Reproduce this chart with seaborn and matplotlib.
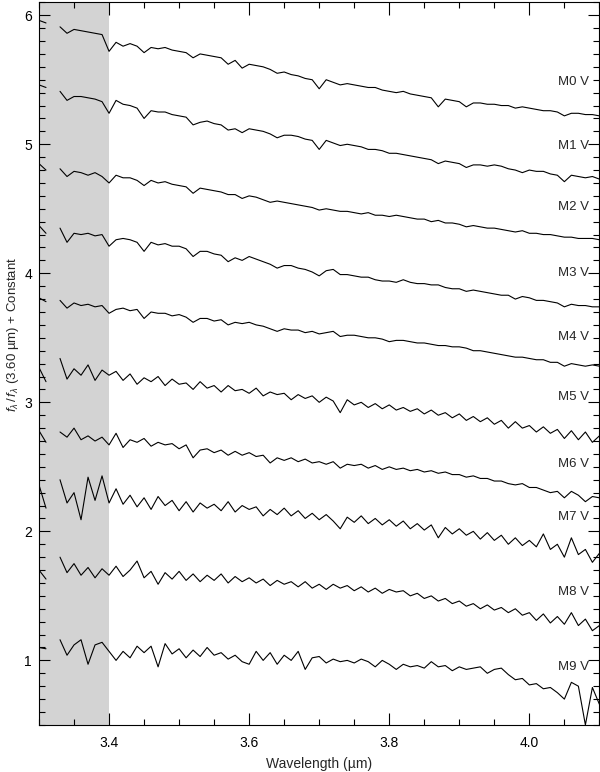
import numpy as np
import pandas as pd
import seaborn as sns
import matplotlib.pyplot as plt
from matplotlib.ticker import MultipleLocator

nan = np.nan

# wavelength grid (um), 0.01 step
wavelength = np.round(np.arange(3.30, 4.105, 0.01), 2)

# normalised flux + offset (nan = gap in the data)
m0 = [5.96, 5.94, nan, 5.91, 5.86, 5.89, 5.88, 5.87, 5.86, 5.85,
      5.72, 5.79, 5.76, 5.78, 5.76, 5.71, 5.75, 5.74, 5.75, 5.73,
      5.72, 5.71, 5.67, 5.70, 5.69, 5.68, 5.67, 5.62, 5.65, 5.59,
      5.62, 5.61, 5.60, 5.58, 5.55, 5.56, 5.54, 5.53, 5.51, 5.50,
      5.43, 5.50, 5.48, 5.46, 5.47, 5.46, 5.45, 5.44, 5.44, 5.42,
      5.41, 5.40, 5.41, 5.39, 5.38, 5.37, 5.36, 5.29, 5.35, 5.34,
      5.33, 5.29, 5.32, 5.32, 5.31, 5.31, 5.30, 5.30, 5.28, 5.29,
      5.28, 5.27, 5.26, 5.26, 5.25, 5.22, 5.24, 5.24, 5.23, 5.23,
      5.22]
m1 = [5.46, 5.44, nan, 5.41, 5.34, 5.37, 5.37, 5.36, 5.35, 5.33,
      5.24, 5.34, 5.31, 5.30, 5.28, 5.20, 5.26, 5.25, 5.25, 5.23,
      5.22, 5.21, 5.15, 5.17, 5.18, 5.16, 5.15, 5.11, 5.12, 5.09,
      5.12, 5.11, 5.10, 5.08, 5.05, 5.07, 5.07, 5.06, 5.04, 5.03,
      4.96, 5.03, 5.01, 4.99, 5.00, 4.99, 4.98, 4.96, 4.96, 4.95,
      4.93, 4.93, 4.92, 4.91, 4.90, 4.89, 4.88, 4.85, 4.87, 4.86,
      4.85, 4.82, 4.84, 4.84, 4.83, 4.84, 4.83, 4.81, 4.80, 4.78,
      4.80, 4.79, 4.79, 4.77, 4.76, 4.71, 4.76, 4.75, 4.74, 4.75,
      4.73]
m2 = [4.85, 4.80, nan, 4.81, 4.75, 4.79, 4.78, 4.76, 4.78, 4.75,
      4.70, 4.76, 4.74, 4.74, 4.72, 4.68, 4.72, 4.70, 4.71, 4.69,
      4.68, 4.67, 4.62, 4.66, 4.65, 4.64, 4.63, 4.61, 4.61, 4.58,
      4.60, 4.59, 4.57, 4.55, 4.56, 4.55, 4.54, 4.53, 4.52, 4.51,
      4.49, 4.50, 4.49, 4.48, 4.48, 4.47, 4.46, 4.47, 4.45, 4.45,
      4.44, 4.45, 4.44, 4.43, 4.42, 4.42, 4.40, 4.41, 4.39, 4.39,
      4.38, 4.36, 4.37, 4.36, 4.35, 4.35, 4.34, 4.33, 4.32, 4.33,
      4.31, 4.31, 4.30, 4.30, 4.29, 4.28, 4.28, 4.27, 4.27, 4.27,
      4.26]
m3 = [4.37, 4.31, nan, 4.35, 4.24, 4.31, 4.30, 4.31, 4.29, 4.30,
      4.21, 4.26, 4.27, 4.26, 4.24, 4.17, 4.24, 4.22, 4.23, 4.21,
      4.21, 4.19, 4.13, 4.17, 4.17, 4.15, 4.14, 4.09, 4.12, 4.10,
      4.13, 4.11, 4.09, 4.07, 4.04, 4.06, 4.06, 4.04, 4.03, 4.01,
      3.98, 4.02, 4.03, 3.99, 3.99, 3.98, 3.97, 3.97, 3.95, 3.94,
      3.94, 3.93, 3.95, 3.93, 3.92, 3.92, 3.91, 3.91, 3.89, 3.88,
      3.88, 3.86, 3.87, 3.86, 3.85, 3.84, 3.83, 3.83, 3.80, 3.82,
      3.81, 3.79, 3.79, 3.78, 3.77, 3.74, 3.76, 3.75, 3.75, 3.74,
      3.74]
m4 = [3.81, 3.78, nan, 3.79, 3.73, 3.77, 3.75, 3.76, 3.74, 3.75,
      3.69, 3.72, 3.73, 3.71, 3.72, 3.65, 3.70, 3.69, 3.69, 3.67,
      3.68, 3.66, 3.62, 3.65, 3.65, 3.63, 3.64, 3.60, 3.62, 3.61,
      3.62, 3.60, 3.59, 3.57, 3.55, 3.57, 3.56, 3.56, 3.54, 3.55,
      3.53, 3.54, 3.55, 3.51, 3.52, 3.52, 3.51, 3.50, 3.50, 3.49,
      3.47, 3.48, 3.48, 3.47, 3.46, 3.46, 3.45, 3.44, 3.44, 3.43,
      3.43, 3.42, 3.40, 3.40, 3.39, 3.38, 3.37, 3.36, 3.35, 3.35,
      3.34, 3.33, 3.33, 3.31, 3.31, 3.28, 3.30, 3.29, 3.28, 3.29,
      3.28]
m5 = [3.27, 3.16, nan, 3.34, 3.18, 3.26, 3.21, 3.29, 3.17, 3.25,
      3.21, 3.24, 3.17, 3.22, 3.14, 3.19, 3.16, 3.20, 3.13, 3.18,
      3.14, 3.15, 3.10, 3.16, 3.11, 3.13, 3.08, 3.13, 3.09, 3.10,
      3.07, 3.11, 3.05, 3.08, 3.06, 3.07, 3.02, 3.06, 3.03, 3.05,
      3.00, 3.04, 3.01, 2.92, 3.02, 2.98, 3.00, 2.96, 2.99, 2.95,
      2.98, 2.94, 2.96, 2.93, 2.95, 2.91, 2.94, 2.90, 2.92, 2.88,
      2.91, 2.86, 2.89, 2.85, 2.88, 2.83, 2.86, 2.80, 2.85, 2.80,
      2.82, 2.77, 2.81, 2.76, 2.79, 2.72, 2.78, 2.71, 2.77, 2.69,
      2.74]
m6 = [2.78, 2.69, nan, 2.77, 2.73, 2.80, 2.71, 2.74, 2.70, 2.73,
      2.67, 2.76, 2.65, 2.71, 2.69, 2.72, 2.66, 2.69, 2.67, 2.68,
      2.64, 2.67, 2.57, 2.63, 2.64, 2.61, 2.63, 2.59, 2.62, 2.59,
      2.61, 2.58, 2.59, 2.53, 2.57, 2.55, 2.57, 2.54, 2.56, 2.53,
      2.54, 2.52, 2.54, 2.49, 2.52, 2.51, 2.52, 2.49, 2.51, 2.48,
      2.50, 2.48, 2.49, 2.47, 2.48, 2.46, 2.47, 2.45, 2.46, 2.44,
      2.44, 2.42, 2.43, 2.41, 2.41, 2.39, 2.39, 2.37, 2.36, 2.37,
      2.34, 2.34, 2.32, 2.30, 2.31, 2.26, 2.31, 2.28, 2.23, 2.27,
      2.26]
m7 = [2.36, 2.18, nan, 2.40, 2.22, 2.30, 2.09, 2.42, 2.24, 2.43,
      2.22, 2.33, 2.21, 2.28, 2.19, 2.26, 2.17, 2.27, 2.20, 2.24,
      2.16, 2.23, 2.15, 2.22, 2.18, 2.21, 2.16, 2.23, 2.15, 2.20,
      2.17, 2.19, 2.12, 2.17, 2.13, 2.18, 2.12, 2.16, 2.10, 2.14,
      2.09, 2.13, 2.08, 2.02, 2.11, 2.07, 2.12, 2.06, 2.10, 2.05,
      2.09, 2.04, 2.08, 2.02, 2.06, 2.01, 2.05, 1.95, 2.03, 1.98,
      2.02, 1.97, 2.00, 1.94, 1.99, 1.93, 1.97, 1.90, 1.95, 1.89,
      1.93, 1.88, 1.98, 1.86, 1.90, 1.80, 1.95, 1.82, 1.86, 1.76,
      1.83]
m8 = [1.70, 1.63, nan, 1.80, 1.68, 1.75, 1.66, 1.72, 1.64, 1.71,
      1.66, 1.73, 1.65, 1.70, 1.77, 1.64, 1.69, 1.59, 1.68, 1.63,
      1.69, 1.62, 1.67, 1.61, 1.66, 1.62, 1.67, 1.60, 1.65, 1.61,
      1.64, 1.60, 1.63, 1.58, 1.62, 1.59, 1.61, 1.57, 1.61, 1.56,
      1.59, 1.55, 1.59, 1.56, 1.58, 1.54, 1.57, 1.53, 1.56, 1.52,
      1.55, 1.53, 1.54, 1.50, 1.52, 1.48, 1.50, 1.46, 1.48, 1.44,
      1.46, 1.42, 1.44, 1.40, 1.43, 1.39, 1.41, 1.37, 1.40, 1.35,
      1.37, 1.31, 1.36, 1.29, 1.34, 1.28, 1.37, 1.27, 1.32, 1.23,
      1.27]
m9 = [1.10, 1.09, nan, 1.16, 1.04, 1.12, 1.16, 0.97, 1.12, 1.14,
      1.07, 1.00, 1.07, 1.02, 1.11, 1.06, 1.11, 0.95, 1.13, 1.05,
      1.09, 1.02, 1.08, 1.03, 1.10, 1.04, 1.06, 1.01, 1.04, 0.99,
      0.97, 1.07, 1.00, 1.06, 0.97, 1.04, 1.00, 1.07, 0.93, 1.02,
      1.03, 0.98, 1.01, 0.99, 1.00, 0.98, 1.01, 0.99, 0.95, 1.00,
      0.97, 0.93, 0.97, 0.95, 0.96, 0.94, 0.99, 0.95, 0.96, 0.92,
      0.95, 0.93, 0.94, 0.95, 0.90, 0.93, 0.94, 0.89, 0.85, 0.86,
      0.81, 0.82, 0.78, 0.79, 0.75, 0.70, 0.83, 0.80, 0.50, 0.79,
      0.66]

spectra = {'M0 V': m0, 'M1 V': m1, 'M2 V': m2, 'M3 V': m3, 'M4 V': m4,
           'M5 V': m5, 'M6 V': m6, 'M7 V': m7, 'M8 V': m8, 'M9 V': m9}
label_y = [5.48, 4.99, 4.51, 4.00, 3.51, 3.04, 2.52, 2.11, 1.53, 0.95]

frames = []
for name, flux in spectra.items():
    d = pd.DataFrame({'wavelength': wavelength, 'flux': flux, 'type': name})
    d['piece'] = name + np.where(d['wavelength'] < 3.315, '-a', '-b')
    frames.append(d)
df = pd.concat(frames).dropna()

sns.set_style('ticks')
plt.rcParams['font.family'] = ['Liberation Sans', 'DejaVu Sans']
plt.rcParams['mathtext.fontset'] = 'custom'
plt.rcParams['mathtext.it'] = 'Liberation Sans:italic'
plt.rcParams['mathtext.rm'] = 'Liberation Sans'

fig = plt.figure(figsize=(6, 7.72), dpi=100)
ax = fig.add_axes([0.065, 0.061, 0.934, 0.936])

ax.axvspan(3.3, 3.4, color='#d3d3d3', lw=0, zorder=0)
sns.lineplot(data=df, x='wavelength', y='flux', units='piece', estimator=None,
             color='black', lw=0.8, ax=ax, legend=False)

for name, y in zip(spectra.keys(), label_y):
    ax.text(4.041, y, name, fontsize=9.5, va='center', ha='left')

ax.set_xlim(3.3, 4.1)
ax.set_ylim(0.5, 6.1)
ax.xaxis.set_major_locator(MultipleLocator(0.2))
ax.xaxis.set_minor_locator(MultipleLocator(0.05))
ax.yaxis.set_major_locator(MultipleLocator(1))
ax.yaxis.set_minor_locator(MultipleLocator(0.1))
ax.set_xticks([3.4, 3.6, 3.8, 4.0])
ax.set_xticklabels(['3.4', '3.6', '3.8', '4.0'])
ax.tick_params(which='both', direction='in', top=True, right=True, width=0.8,
               colors='black', labelsize=10)
ax.tick_params(axis='x', which='major', length=9, pad=8)
ax.tick_params(axis='y', which='major', length=8, pad=5)
ax.tick_params(which='minor', length=4.5)
for s in ax.spines.values():
    s.set_linewidth(0.8)
    s.set_color('black')

ax.set_xlabel('Wavelength (µm)', fontsize=10, labelpad=5)
ax.set_ylabel(r'$f_\lambda\,/\,f_\lambda$ (3.60 µm) + Constant', fontsize=9.5)
ax.yaxis.set_label_coords(-0.033, 0.54)

fig.savefig('out.png', dpi=100)
